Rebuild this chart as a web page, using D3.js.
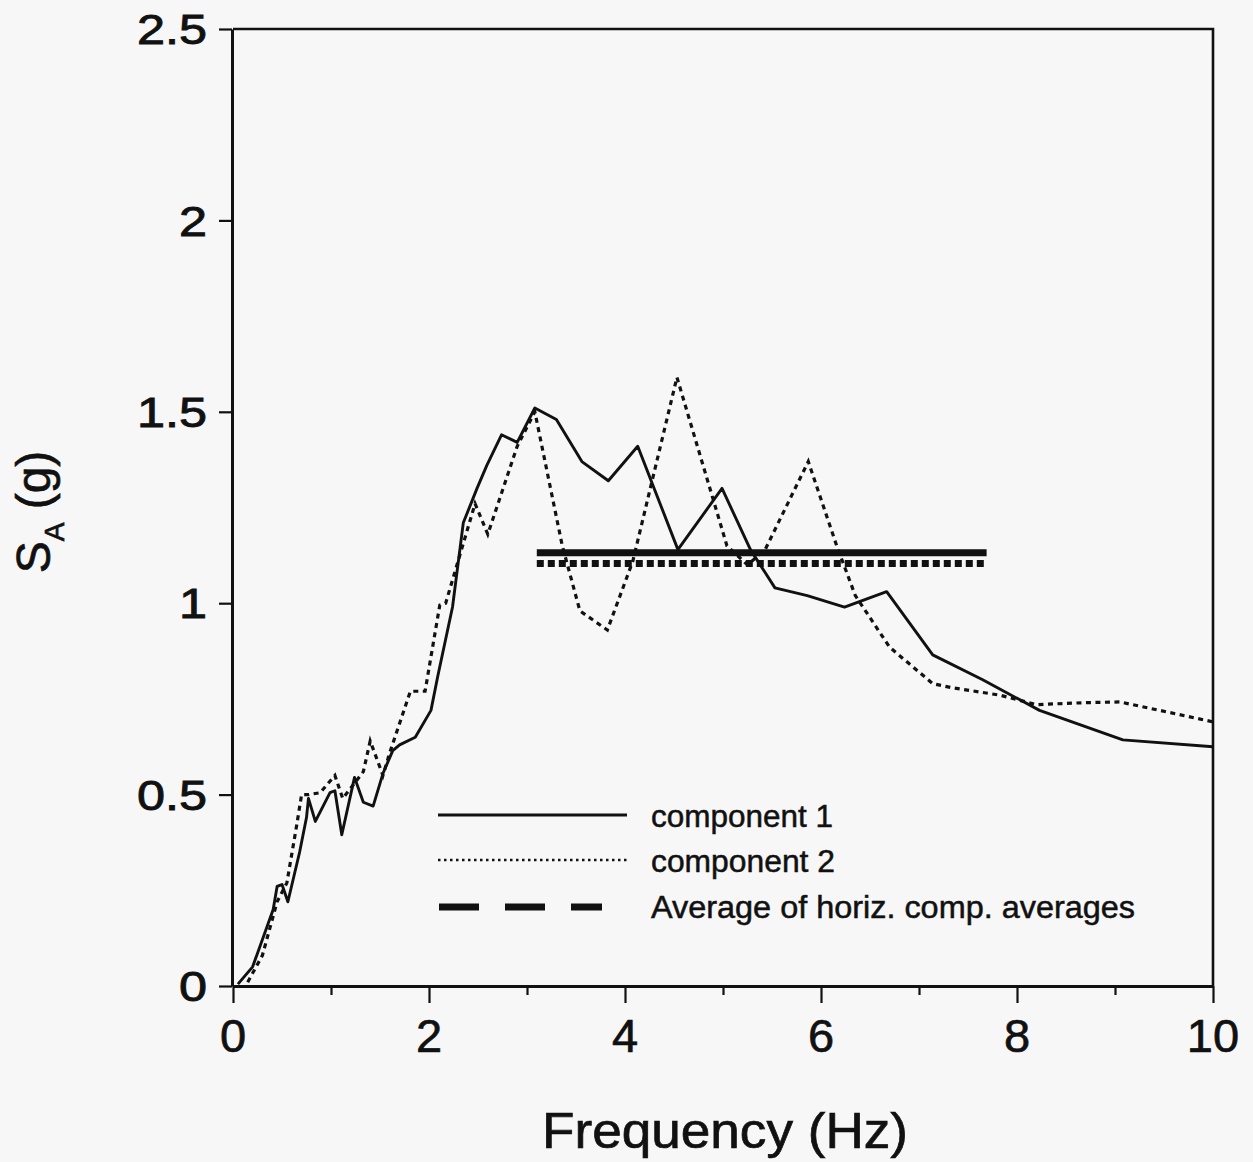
<!DOCTYPE html>
<html>
<head>
<meta charset="utf-8">
<script src="https://cdn.jsdelivr.net/npm/d3@7"></script>
<style>
  html, body { margin: 0; padding: 0; background: #f7f7f7; }
  svg { display: block; }
  text { font-family: "Liberation Sans", Arial, Helvetica, sans-serif; fill: #111; }
</style>
</head>
<body>
<svg id="chart" width="1253" height="1162"></svg>
<script>
// ---- data ----
const comp1Freq = [0.05, 0.2, 0.41, 0.45, 0.5, 0.56, 0.68, 0.75, 0.77, 0.84, 0.99, 1.04, 1.11, 1.24, 1.33, 1.43, 1.53, 1.63, 1.7, 1.86, 2.02, 2.09, 2.24, 2.35, 2.49, 2.59, 2.74, 2.9, 3.08, 3.3, 3.56, 3.83, 4.13, 4.54, 4.99, 5.28, 5.53, 5.86, 6.24, 6.67, 7.14, 7.65, 8.23, 9.08, 10.0];
const comp1SA   = [0.005, 0.05, 0.2, 0.26, 0.265, 0.22, 0.35, 0.44, 0.49, 0.43, 0.505, 0.51, 0.395, 0.545, 0.48, 0.47, 0.555, 0.615, 0.63, 0.65, 0.72, 0.81, 0.99, 1.21, 1.3, 1.36, 1.44, 1.42, 1.51, 1.48, 1.37, 1.32, 1.41, 1.14, 1.3, 1.14, 1.04, 1.02, 0.99, 1.03, 0.865, 0.8, 0.72, 0.643, 0.625];

const comp2Freq = [0.15, 0.3, 0.45, 0.55, 0.65, 0.7, 0.77, 0.89, 1.04, 1.12, 1.33, 1.4, 1.53, 1.6, 1.81, 1.96, 2.11, 2.17, 2.47, 2.6, 2.9, 3.08, 3.36, 3.54, 3.82, 4.08, 4.53, 5.04, 5.25, 5.43, 5.87, 6.16, 6.35, 6.7, 7.14, 7.32, 7.82, 8.2, 8.67, 9.05, 9.53, 10.0];
const comp2SA   = [0.01, 0.08, 0.22, 0.27, 0.42, 0.5, 0.5, 0.505, 0.55, 0.49, 0.56, 0.64, 0.55, 0.61, 0.77, 0.77, 0.995, 1.0, 1.26, 1.18, 1.41, 1.5, 1.15, 0.98, 0.93, 1.11, 1.59, 1.15, 1.1, 1.14, 1.37, 1.15, 1.02, 0.885, 0.79, 0.78, 0.76, 0.735, 0.74, 0.742, 0.716, 0.69];

const avgRange = [3.1, 7.69];          // frequency band of the averages
const avgComp1 = 1.132;                // thick solid
const avgComp2 = 1.104;                // thick dotted

const xTicks = [0, 1, 2, 3, 4, 5, 6, 7, 8, 9, 10];
const xTickLabels = ["0", "2", "4", "6", "8", "10"];
const yTicks = [0, 0.5, 1, 1.5, 2, 2.5];
const yTickLabels = ["0", "0.5", "1", "1.5", "2", "2.5"];
const legendLabels = ["component 1", "component 2", "Average of horiz. comp. averages"];

// ---- layout ----
const svg = d3.select("#chart");
const x = d3.scaleLinear().domain([0, 10]).range([233, 1213]);
const y = d3.scaleLinear().domain([0, 2.5]).range([986, 29]);

// frame (top and right)
svg.append("path")
  .attr("d", `M${x(0)},${y(2.5)}H${x(10)}V${y(0)}`)
  .attr("fill", "none").attr("stroke", "#111").attr("stroke-width", 2.6);

// x axis
const gx = svg.append("g").attr("transform", `translate(0,${y(0)})`)
  .call(d3.axisBottom(x).tickValues(xTicks).tickSizeOuter(0).tickFormat(""));
gx.select(".domain").attr("stroke", "#111").attr("stroke-width", 3);
gx.selectAll(".tick line").attr("stroke", "#111").attr("stroke-width", 2.2)
  .attr("y2", d => d % 2 === 0 ? 17 : 9);
gx.selectAll(".tick text").remove();
svg.append("g").selectAll("text").data(xTickLabels).join("text")
  .attr("x", d => x(+d)).attr("y", y(0) + 66)
  .attr("text-anchor", "middle").attr("font-size", 47)
  .attr("stroke", "#111").attr("stroke-width", 0.7)
  .text(d => d);

// y axis
const gy = svg.append("g").attr("transform", `translate(${x(0) - 1},0)`)
  .call(d3.axisLeft(y).tickValues(yTicks).tickSize(13).tickSizeOuter(0).tickFormat(""));
gy.select(".domain").attr("stroke", "#111").attr("stroke-width", 3);
gy.selectAll(".tick line").attr("stroke", "#111").attr("stroke-width", 2.2);
gy.selectAll(".tick text").remove();
svg.append("g").selectAll("text").data(yTickLabels).join("text")
  .attr("transform", d => `translate(${x(0) - 26},${y(+d)}) scale(1.2,1)`)
  .attr("dy", "0.36em")
  .attr("text-anchor", "end").attr("font-size", 42)
  .attr("stroke", "#111").attr("stroke-width", 0.9)
  .text(d => d);

// axis titles
svg.append("text")
  .attr("x", 725).attr("y", 1148)
  .attr("text-anchor", "middle").attr("font-size", 50)
  .attr("textLength", 366).attr("lengthAdjust", "spacingAndGlyphs")
  .attr("stroke", "#111").attr("stroke-width", 0.7)
  .text("Frequency (Hz)");

const yt = svg.append("text")
  .attr("transform", "translate(50,512) rotate(-90)")
  .attr("text-anchor", "middle").attr("font-size", 48)
  .attr("stroke", "#111").attr("stroke-width", 0.7);
yt.append("tspan").text("S");
yt.append("tspan").attr("font-size", 28).attr("dy", 14).text("A");
yt.append("tspan").attr("dy", -14).text(" (g)");

// curves
const line = d3.line().x(d => x(d[0])).y(d => y(d[1]));
const c1 = comp1Freq.map((f, i) => [f, comp1SA[i]]);
const c2 = comp2Freq.map((f, i) => [f, comp2SA[i]]);

svg.append("path").datum(c2).attr("d", line)
  .attr("fill", "none").attr("stroke", "#111").attr("stroke-width", 3.2)
  .attr("stroke-dasharray", "5,4.5");
svg.append("path").datum(c1).attr("d", line)
  .attr("fill", "none").attr("stroke", "#111").attr("stroke-width", 2.9)
  .attr("stroke-linejoin", "round");

// average lines
svg.append("path").datum(avgRange.map(f => [f, avgComp1])).attr("d", line)
  .attr("fill", "none").attr("stroke", "#111").attr("stroke-width", 7);
svg.append("path").datum(avgRange.map(f => [f, avgComp2])).attr("d", line)
  .attr("fill", "none").attr("stroke", "#111").attr("stroke-width", 7)
  .attr("stroke-dasharray", "7,4");

// legend
const legRows = [815, 860, 907];
const legText = [827, 872, 918];
const legWidths = [182, 184, 484];
const lg = svg.append("g");
lg.append("line").attr("x1", 438).attr("x2", 627).attr("y1", legRows[0]).attr("y2", legRows[0])
  .attr("stroke", "#111").attr("stroke-width", 2.8);
lg.append("line").attr("x1", 438).attr("x2", 627).attr("y1", legRows[1]).attr("y2", legRows[1])
  .attr("stroke", "#111").attr("stroke-width", 2.6).attr("stroke-dasharray", "2.5,3.5");
lg.append("line").attr("x1", 439).attr("x2", 602).attr("y1", legRows[2]).attr("y2", legRows[2])
  .attr("stroke", "#111").attr("stroke-width", 7).attr("stroke-dasharray", "40,26");
lg.selectAll("text").data(legendLabels).join("text")
  .attr("x", 651).attr("y", (d, i) => legText[i])
  .attr("font-size", 31)
  .attr("stroke", "#111").attr("stroke-width", 0.5)
  .attr("textLength", (d, i) => legWidths[i]).attr("lengthAdjust", "spacingAndGlyphs")
  .text(d => d);
</script>
</body>
</html>
